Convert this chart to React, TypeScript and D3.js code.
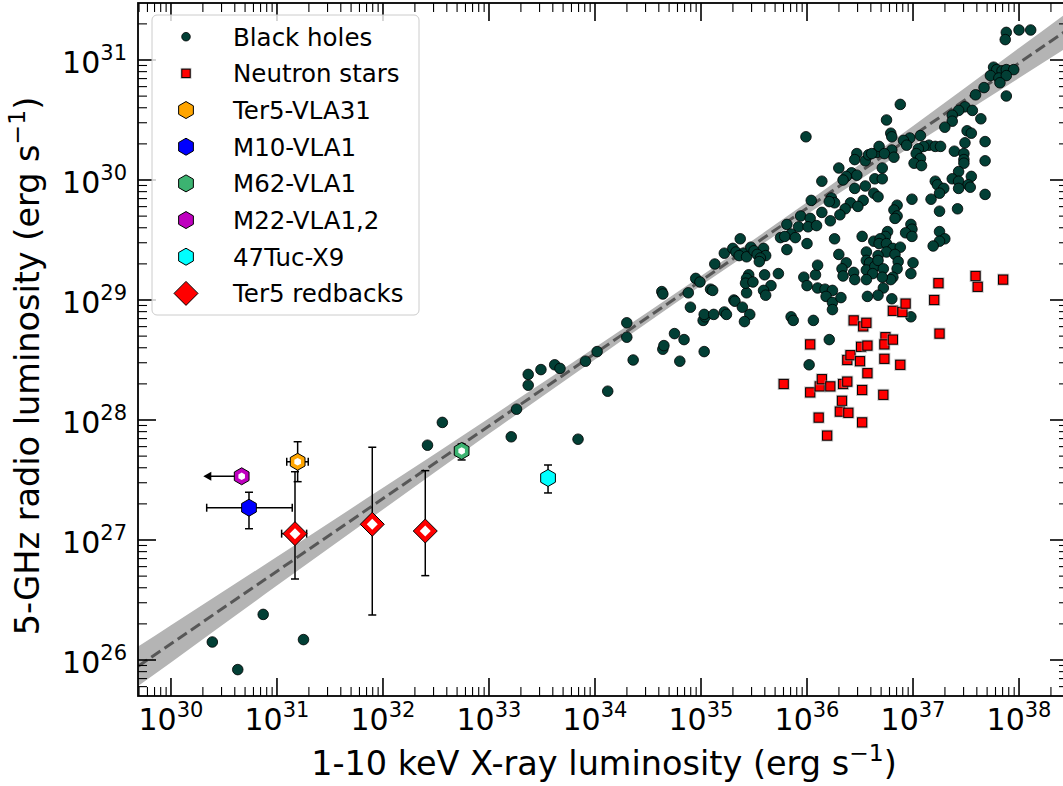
import React, { useEffect, useRef } from "react";
import * as d3 from "d3";

// log10 (L_X, L_R) pairs
const blackHoles: [number, number][] = [
  [30.39, 26.15], [30.63, 25.92], [30.87, 26.38], [31.25, 26.17], [32.42, 27.79], [32.56, 27.98],
  [33.21, 27.86], [33.26, 28.09], [33.37, 28.29], [33.37, 28.38], [33.49, 28.42], [33.62, 28.46],
  [33.67, 28.43], [33.84, 27.84], [33.91, 28.49], [34.02, 28.57], [34.12, 28.24], [34.30, 28.81],
  [34.30, 28.69], [34.36, 28.50], [34.63, 29.07], [34.64, 29.05], [34.88, 29.06], [34.95, 29.18],
  [34.90, 28.94], [34.75, 28.72], [34.84, 28.67], [34.64, 28.59], [34.65, 28.62], [34.80, 28.49],
  [35.03, 28.57], [35.02, 28.83], [35.04, 28.86], [35.09, 29.09],
  [35.99, 30.36], [36.47, 30.22], [36.45, 30.17], [36.55, 30.16], [36.58, 30.21], [36.66, 30.23],
  [36.68, 30.28], [36.30, 30.10], [36.42, 30.06], [36.37, 30.03], [36.47, 30.04], [36.34, 30.00],
  [36.14, 29.99], [36.64, 30.01], [36.45, 29.93], [36.55, 29.95], [36.63, 29.89], [36.04, 29.83],
  [36.23, 29.85], [36.26, 29.81], [36.21, 29.82], [36.41, 29.81], [36.53, 29.83], [36.48, 29.78],
  [36.36, 29.76], [36.31, 29.71], [36.14, 29.73], [36.22, 29.66], [35.94, 29.70], [36.03, 29.68],
  [35.81, 29.63], [35.92, 29.61], [36.01, 29.61], [36.09, 29.62], [35.85, 29.55], [35.75, 29.52],
  [35.79, 29.53], [35.89, 29.52], [36.00, 29.47], [36.26, 29.51], [36.52, 29.53], [35.37, 29.51],
  [35.22, 29.39], [35.30, 29.43], [35.33, 29.40], [35.40, 29.39], [35.36, 29.37], [35.43, 29.36],
  [35.47, 29.44], [35.50, 29.41], [35.59, 29.43], [35.53, 29.38], [35.61, 29.37], [35.56, 29.35],
  [35.55, 29.32], [35.81, 29.42], [35.13, 29.30], [35.45, 29.21], [35.43, 29.18], [35.60, 29.21],
  [35.73, 29.22], [35.97, 29.19], [36.08, 29.21], [36.10, 29.29], [36.30, 29.38], [36.37, 29.31],
  [36.33, 29.26], [36.34, 29.20], [36.44, 29.23], [36.56, 29.40], [36.63, 29.49], [36.56, 29.33],
  [36.59, 29.31], [36.56, 29.25], [36.64, 29.28], [36.62, 29.22],
  [37.88, 31.23], [37.87, 31.17], [38.00, 31.25], [38.11, 31.25], [37.76, 30.94], [37.79, 30.92],
  [37.84, 30.91], [37.88, 30.92], [37.95, 30.92], [37.73, 30.87], [37.81, 30.85], [37.88, 30.87],
  [37.82, 30.81], [37.67, 30.77], [37.59, 30.71], [37.88, 30.70], [37.49, 30.61], [37.56, 30.58],
  [37.43, 30.58], [37.37, 30.54], [37.37, 30.49], [37.64, 30.51], [37.30, 30.44], [36.88, 30.63],
  [36.75, 30.50], [36.79, 30.39], [36.80, 30.36], [37.07, 30.37], [36.97, 30.35], [36.91, 30.33],
  [37.51, 30.41], [37.55, 30.39], [37.68, 30.32], [37.49, 30.31], [36.94, 30.29], [36.80, 30.25],
  [37.15, 30.29], [37.21, 30.28], [37.26, 30.28], [37.10, 30.28], [37.05, 30.26], [37.03, 30.22],
  [37.07, 30.18], [36.61, 30.22], [36.73, 30.22], [36.82, 30.19], [37.39, 30.24], [37.48, 30.22],
  [37.48, 30.17], [37.48, 30.14], [37.68, 30.16], [37.01, 30.14], [37.08, 30.12], [36.71, 30.10],
  [37.43, 30.07], [37.55, 30.03], [37.37, 30.01], [37.43, 29.99], [37.21, 29.99], [37.23, 29.96],
  [37.29, 29.93], [37.25, 29.89], [36.71, 30.01], [37.52, 29.96], [37.54, 29.94], [37.43, 29.93],
  [37.68, 29.88], [36.99, 29.84], [37.17, 29.84], [36.67, 29.86], [37.25, 29.74], [37.42, 29.76],
  [36.85, 29.79], [36.82, 29.75], [36.85, 29.70], [36.83, 29.68], [36.98, 29.63], [36.99, 29.59],
  [36.93, 29.56], [36.99, 29.53], [36.76, 29.57], [36.74, 29.53], [36.69, 29.51], [36.68, 29.47],
  [36.75, 29.47], [36.81, 29.43], [36.88, 29.44], [36.75, 29.40], [36.83, 29.38], [36.67, 29.37],
  [36.67, 29.33], [36.86, 29.32], [37.00, 29.31], [36.72, 29.26], [36.85, 29.26], [36.98, 29.22],
  [36.81, 29.19], [36.79, 29.17], [36.71, 29.19], [36.56, 29.17], [36.72, 29.10], [36.67, 29.04],
  [36.57, 29.03], [36.80, 29.01], [37.25, 29.57], [37.30, 29.51], [37.25, 29.49], [37.19, 29.45],
  [34.99, 29.15], [35.11, 29.08], [35.03, 28.88], [35.12, 28.88], [35.22, 28.90], [35.24, 28.88],
  [35.31, 29.00], [35.32, 28.99], [35.39, 28.94], [35.46, 28.88], [35.41, 28.82], [35.43, 29.06],
  [35.42, 29.14], [35.49, 29.15], [35.66, 29.12], [35.59, 29.08], [35.61, 29.04], [35.85, 28.86],
  [35.87, 28.83], [36.06, 28.83], [36.21, 28.67], [36.02, 28.46], [36.00, 29.12], [36.10, 29.10],
  [36.17, 29.09], [36.24, 29.08], [36.18, 29.03], [36.24, 28.98], [36.24, 28.92], [36.32, 29.02],
  [36.45, 29.17], [36.98, 28.86]
];

const neutronStars: [number, number][] = [
  [35.78, 28.30], [36.03, 28.63], [36.03, 28.23], [36.12, 28.28], [36.14, 28.34], [36.22, 28.28],
  [36.11, 28.02], [36.19, 27.87], [36.34, 28.30], [36.38, 28.32], [36.33, 28.16], [36.31, 28.07],
  [36.39, 28.06], [36.52, 28.25], [36.52, 27.98], [36.57, 28.39], [36.38, 28.50], [36.41, 28.54],
  [36.50, 28.49], [36.51, 28.61], [36.57, 28.62], [36.44, 28.83], [36.53, 28.78], [36.56, 28.81],
  [36.72, 28.21], [36.73, 28.51], [36.88, 28.46], [36.74, 28.69], [36.73, 28.63], [36.81, 28.67],
  [36.81, 28.91], [36.90, 28.90], [36.93, 28.97], [37.20, 29.00], [37.24, 29.14], [37.25, 28.72],
  [37.59, 29.20], [37.61, 29.11], [37.85, 29.17]
];

// globular-cluster sources (hexagons)
const srcNames = ["Ter5-VLA31", "M10-VLA1", "M62-VLA1", "M22-VLA1,2", "47Tuc-X9"];
const srcColors = ["#ffa500", "#0000ff", "#3cb371", "#bf00bf", "#00ffff"];
const srcLogLx = [31.195, 30.736, 32.742, 30.667, 33.557];
const srcLogLr = [27.652, 27.269, 27.742, 27.531, 27.517];
const srcLxLo = [31.092, 30.337, null, null, null];
const srcLxHi = [31.295, 31.144, null, null, null];
const srcLrLo = [27.486, 27.094, 27.667, null, 27.392];
const srcLrHi = [27.819, 27.398, 27.8, null, 27.625];
const srcLxUpperLimitTo = [null, null, null, 30.305, null];
const srcWhiteCentre = [true, false, true, true, false];

// Terzan 5 redbacks (diamonds)
const rbLogLx = [31.17, 31.899, 32.399];
const rbLogLr = [27.053, 27.131, 27.075];
const rbLrLo = [26.675, 26.375, 26.703];
const rbLrHi = [27.569, 27.773, 27.578];
const rbLxLo = [31.044, null, null];
const rbLxHi = [31.28, null, null];

// correlation fit and its uncertainty band (half width in dex)
const fitSlope = 0.605;
const fitIntercept = 7.985;
const bandLogLx = [29.69, 30, 31, 32, 33, 34, 35, 36, 37, 38, 38.46];
const bandHalfDex = [0.165, 0.155, 0.12, 0.09, 0.065, 0.05, 0.04, 0.05, 0.08, 0.125, 0.145];

const xMajor = [30, 31, 32, 33, 34, 35, 36, 37, 38];
const yMajor = [26, 27, 28, 29, 30, 31];

const W = 1063;
const H = 786;
const L = 138, R = 1068, T = 3, B = 696;
const FONT = "DejaVu Sans, Verdana, sans-serif";

const hexPath = (r: number) => {
  const pts = d3.range(6).map(i => {
    const a = (Math.PI / 3) * i - Math.PI / 2;
    return [r * Math.cos(a), r * Math.sin(a)];
  });
  return "M" + pts.map(p => p[0].toFixed(2) + "," + p[1].toFixed(2)).join("L") + "Z";
};
const diamondPath = (r: number) => `M0,${-r}L${r},0L0,${r}L${-r},0Z`;

const App = () => {
  const ref = useRef<SVGSVGElement | null>(null);

  useEffect(() => {
    document.body.style.margin = "0";
    const svg = d3.select(ref.current);
    svg.selectAll("*").remove();

    const x = d3.scaleLog().domain([10 ** 29.689, 10 ** 38.462]).range([L, R]);
    const y = d3.scaleLog().domain([10 ** 25.7, 10 ** 31.475]).range([B, T]);
    const X = (v: number) => x(10 ** v);
    const Y = (v: number) => y(10 ** v);

    svg.append("rect").attr("width", W).attr("height", H).attr("fill", "white");

    svg.append("clipPath").attr("id", "plotclip")
      .append("rect").attr("x", L).attr("y", T).attr("width", R - L).attr("height", B - T);

    const plot = svg.append("g").attr("clip-path", "url(#plotclip)");

    // band + fit
    const fit = (lx: number) => fitIntercept + fitSlope * lx;
    const area = d3.area<number>()
      .x((_, i) => X(bandLogLx[i]))
      .y0((d, i) => Y(fit(bandLogLx[i]) - d))
      .y1((d, i) => Y(fit(bandLogLx[i]) + d))
      .curve(d3.curveMonotoneX);
    plot.append("path").attr("d", area(bandHalfDex)).attr("fill", "#b4b4b4");

    plot.append("line")
      .attr("x1", X(29.69)).attr("y1", Y(fit(29.69)))
      .attr("x2", X(38.46)).attr("y2", Y(fit(38.46)))
      .attr("stroke", "#575757").attr("stroke-width", 3)
      .attr("stroke-dasharray", "11,5");

    // black holes
    plot.append("g").selectAll("circle").data(blackHoles).join("circle")
      .attr("cx", d => X(d[0])).attr("cy", d => Y(d[1])).attr("r", 5.3)
      .attr("fill", "#023f35").attr("stroke", "#000").attr("stroke-width", 0.8);

    // neutron stars
    const ns = plot.append("g").selectAll("g").data(neutronStars).join("g")
      .attr("transform", d => `translate(${X(d[0])},${Y(d[1])})`);
    ns.append("rect").attr("x", -6).attr("y", -6).attr("width", 12).attr("height", 12)
      .attr("fill", "#999").attr("opacity", 0.55);
    ns.append("rect").attr("x", -4.6).attr("y", -4.6).attr("width", 9.2).attr("height", 9.2)
      .attr("fill", "#ff0000").attr("stroke", "#000").attr("stroke-width", 1);

    // error bars
    const eb = plot.append("g").attr("stroke", "#000").attr("stroke-width", 1.5).attr("fill", "none");
    const vbar = (lx: number, lo: number, hi: number) => {
      eb.append("line").attr("x1", X(lx)).attr("x2", X(lx)).attr("y1", Y(lo)).attr("y2", Y(hi));
      [lo, hi].forEach(v => eb.append("line").attr("x1", X(lx) - 4).attr("x2", X(lx) + 4)
        .attr("y1", Y(v)).attr("y2", Y(v)));
    };
    const hbar = (lr: number, lo: number, hi: number) => {
      eb.append("line").attr("y1", Y(lr)).attr("y2", Y(lr)).attr("x1", X(lo)).attr("x2", X(hi));
      [lo, hi].forEach(v => eb.append("line").attr("y1", Y(lr) - 4).attr("y2", Y(lr) + 4)
        .attr("x1", X(v)).attr("x2", X(v)));
    };
    srcNames.forEach((_, i) => {
      if (srcLrLo[i] != null) vbar(srcLogLx[i], srcLrLo[i] as number, srcLrHi[i] as number);
      if (srcLxLo[i] != null) hbar(srcLogLr[i], srcLxLo[i] as number, srcLxHi[i] as number);
      const lim = srcLxUpperLimitTo[i];
      if (lim != null) {
        const yy = Y(srcLogLr[i]);
        eb.append("line").attr("x1", X(srcLogLx[i])).attr("x2", X(lim) + 6).attr("y1", yy).attr("y2", yy);
        plot.append("path")
          .attr("d", `M${X(lim)},${yy}L${X(lim) + 8},${yy - 4.5}L${X(lim) + 8},${yy + 4.5}Z`)
          .attr("fill", "#000");
      }
    });
    rbLogLx.forEach((lx, i) => {
      vbar(lx, rbLrLo[i], rbLrHi[i]);
      if (rbLxLo[i] != null) hbar(rbLogLr[i], rbLxLo[i] as number, rbLxHi[i] as number);
    });

    // hexagon sources
    const hx = plot.append("g").selectAll("g").data(srcNames).join("g")
      .attr("transform", (_, i) => `translate(${X(srcLogLx[i])},${Y(srcLogLr[i])})`);
    hx.append("path").attr("d", hexPath(8.5))
      .attr("fill", (_, i) => srcColors[i]).attr("stroke", "#000").attr("stroke-width", 1);
    hx.filter((_, i) => srcWhiteCentre[i]).append("path").attr("d", hexPath(3.8)).attr("fill", "#fff");

    // redbacks
    const rb = plot.append("g").selectAll("g").data(rbLogLx).join("g")
      .attr("transform", (d, i) => `translate(${X(d)},${Y(rbLogLr[i])})`);
    rb.append("path").attr("d", diamondPath(12)).attr("fill", "#ff0000")
      .attr("stroke", "#000").attr("stroke-width", 1);
    rb.append("path").attr("d", diamondPath(5.5)).attr("fill", "#fff");

    // ticks
    const axes = svg.append("g").attr("stroke", "#000");
    const minor = (majors: number[]) => {
      const out: number[] = [];
      [majors[0] - 1, ...majors].forEach(e => d3.range(2, 10).forEach(m => out.push(e + Math.log10(m))));
      return out;
    };
    const xMinor = minor(xMajor).filter(v => v > 29.689 && v < 38.462);
    const yMinor = minor(yMajor).filter(v => v > 25.7 && v < 31.475);
    xMajor.forEach(v => {
      axes.append("line").attr("x1", X(v)).attr("x2", X(v)).attr("y1", B).attr("y2", B - 18).attr("stroke-width", 1.6);
      axes.append("line").attr("x1", X(v)).attr("x2", X(v)).attr("y1", T).attr("y2", T + 18).attr("stroke-width", 1.6);
    });
    xMinor.forEach(v => {
      axes.append("line").attr("x1", X(v)).attr("x2", X(v)).attr("y1", B).attr("y2", B - 9).attr("stroke-width", 1.1);
      axes.append("line").attr("x1", X(v)).attr("x2", X(v)).attr("y1", T).attr("y2", T + 9).attr("stroke-width", 1.1);
    });
    yMajor.forEach(v => {
      axes.append("line").attr("y1", Y(v)).attr("y2", Y(v)).attr("x1", L).attr("x2", L + 18).attr("stroke-width", 1.6);
      axes.append("line").attr("y1", Y(v)).attr("y2", Y(v)).attr("x1", R).attr("x2", R - 18).attr("stroke-width", 1.6);
    });
    yMinor.forEach(v => {
      axes.append("line").attr("y1", Y(v)).attr("y2", Y(v)).attr("x1", L).attr("x2", L + 9).attr("stroke-width", 1.1);
      axes.append("line").attr("y1", Y(v)).attr("y2", Y(v)).attr("x1", R).attr("x2", R - 9).attr("stroke-width", 1.1);
    });
    axes.append("rect").attr("x", L).attr("y", T).attr("width", R - L).attr("height", B - T)
      .attr("fill", "none").attr("stroke-width", 1.8);

    // tick labels
    const xl = svg.append("g").attr("font-family", FONT).attr("fill", "#000");
    xMajor.forEach(v => {
      const t = xl.append("text").attr("x", X(v)).attr("y", 730).attr("text-anchor", "middle").attr("font-size", 30);
      t.append("tspan").text("10");
      t.append("tspan").attr("dy", -13).attr("font-size", 21).text(String(v));
    });
    yMajor.forEach(v => {
      const t = xl.append("text").attr("x", 127).attr("y", Y(v) + 12.5).attr("text-anchor", "end").attr("font-size", 30);
      t.append("tspan").text("10");
      t.append("tspan").attr("dy", -13).attr("font-size", 21).text(String(v));
    });

    // axis titles
    const xt = xl.append("text").attr("x", (L + R) / 2 + 1).attr("y", 775).attr("text-anchor", "middle").attr("font-size", 33.5);
    xt.append("tspan").text("1-10 keV X-ray luminosity (erg s");
    xt.append("tspan").attr("dy", -14).attr("font-size", 23.5).text("\u22121");
    xt.append("tspan").attr("dy", 14).text(")");

    const yt = xl.append("text").attr("transform", `translate(39,366) rotate(-90)`)
      .attr("text-anchor", "middle").attr("font-size", 33.5);
    yt.append("tspan").text("5-GHz radio luminosity (erg s");
    yt.append("tspan").attr("dy", -14).attr("font-size", 23.5).text("\u22121");
    yt.append("tspan").attr("dy", 14).text(")");

    // legend
    const lg = svg.append("g").attr("font-family", FONT);
    lg.append("rect").attr("x", 152).attr("y", 15).attr("width", 267).attr("height", 300).attr("rx", 5)
      .attr("fill", "#fff").attr("fill-opacity", 0.8).attr("stroke", "#cccccc").attr("stroke-width", 1);
    const labels = ["Black holes", "Neutron stars", ...srcNames, "Ter5 redbacks"];
    labels.forEach((name, i) => {
      const cy = 36.7 + i * 36.67;
      const g = lg.append("g").attr("transform", `translate(186,${cy})`);
      if (i === 0) {
        g.append("circle").attr("r", 4.3).attr("fill", "#023f35").attr("stroke", "#000").attr("stroke-width", 0.8);
      } else if (i === 1) {
        g.append("rect").attr("x", -5.5).attr("y", -5.5).attr("width", 11).attr("height", 11).attr("fill", "#999").attr("opacity", 0.55);
        g.append("rect").attr("x", -4.2).attr("y", -4.2).attr("width", 8.4).attr("height", 8.4)
          .attr("fill", "#ff0000").attr("stroke", "#000").attr("stroke-width", 1);
      } else if (i < labels.length - 1) {
        g.append("path").attr("d", hexPath(8.5)).attr("fill", srcColors[i - 2]).attr("stroke", "#000").attr("stroke-width", 1);
      } else {
        g.append("path").attr("d", diamondPath(12)).attr("fill", "#ff0000").attr("stroke", "#000").attr("stroke-width", 1);
      }
      lg.append("text").attr("x", 233).attr("y", cy + 8.8).attr("font-size", 24.5).attr("fill", "#000").text(name);
    });
  }, []);

  return (
    <svg ref={ref} width={W} height={H} style={{ position: "absolute", left: 0, top: 0, display: "block" }} />
  );
};

export default App;
